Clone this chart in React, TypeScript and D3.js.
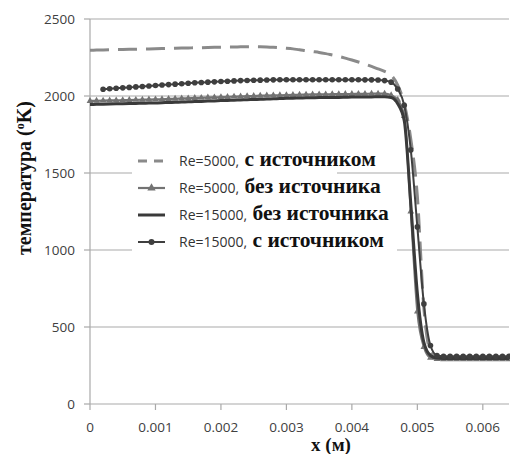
import React from 'react';
import * as d3 from 'd3';

// mesh points along x (m)
const xValues = [
  0, 0.0001, 0.0002, 0.0003, 0.0004, 0.0005, 0.0006, 0.0007, 0.0008, 0.0009,
  0.001, 0.0011, 0.0012, 0.0013, 0.0014, 0.0015, 0.0016, 0.0017, 0.0018, 0.0019,
  0.002, 0.0021, 0.0022, 0.0023, 0.0024, 0.0025, 0.0026, 0.0027, 0.0028, 0.0029,
  0.003, 0.0031, 0.0032, 0.0033, 0.0034, 0.0035, 0.0036, 0.0037, 0.0038, 0.0039,
  0.004, 0.0041, 0.0042, 0.0043, 0.0044, 0.0045, 0.0046, 0.0047, 0.0048, 0.0049,
  0.005, 0.0051, 0.0052, 0.0053, 0.0054, 0.0055, 0.0056, 0.0057, 0.0058, 0.0059,
  0.006, 0.0061, 0.0062, 0.0063, 0.0064,
];

// Re=5000, с источником (dashed)
const re5000Source = [
  2297, 2298, 2299, 2300, 2301, 2302, 2303, 2304, 2305, 2306,
  2307, 2308, 2309, 2310, 2311, 2312, 2313, 2314, 2315, 2316,
  2317, 2318, 2318, 2319, 2319, 2319, 2319, 2318, 2316, 2313,
  2310, 2306, 2300, 2295, 2289, 2283, 2275, 2266, 2257, 2246,
  2234, 2221, 2207, 2192, 2176, 2160, 2135, 2070, 1950, 1720,
  1350, 620, 340, 300, 295, 295, 295, 295, 295, 295,
  295, 295, 295, 295, 295,
];

// Re=5000, без источника (triangles)
const re5000NoSource = [
  1968, 1969, 1970, 1971, 1972, 1973, 1974, 1975, 1976, 1977,
  1978, 1979, 1981, 1982, 1984, 1985, 1987, 1988, 1990, 1991,
  1993, 1994, 1996, 1997, 1999, 2000, 2002, 2003, 2004, 2005,
  2006, 2007, 2008, 2009, 2010, 2011, 2011, 2012, 2012, 2013,
  2013, 2014, 2014, 2015, 2015, 2015, 2005, 1975, 1870, 1250,
  600, 370, 300, 292, 290, 290, 290, 290, 290, 290,
  290, 290, 290, 290, 290,
];

// Re=15000, без источника (solid)
const re15000NoSource = [
  1945, 1946, 1947, 1948, 1949, 1950, 1951, 1952, 1953, 1954,
  1955, 1956, 1958, 1959, 1961, 1962, 1964, 1965, 1967, 1968,
  1970, 1971, 1973, 1974, 1976, 1977, 1979, 1980, 1982, 1983,
  1985, 1986, 1987, 1988, 1989, 1990, 1990, 1991, 1991, 1992,
  1993, 1993, 1994, 1994, 1995, 1995, 1990, 1950, 1840, 1300,
  720, 400, 315, 298, 295, 295, 295, 295, 295, 295,
  295, 295, 295, 295, 295,
];

// Re=15000, с источником (dots)
const re15000Source = [
  null, null, 2044, 2047, 2050, 2053, 2056, 2059, 2062, 2065,
  2068, 2071, 2074, 2077, 2080, 2083, 2086, 2088, 2090, 2092,
  2094, 2096, 2098, 2100, 2101, 2102, 2103, 2104, 2105, 2106,
  2106, 2106, 2106, 2106, 2106, 2106, 2106, 2106, 2106, 2106,
  2106, 2106, 2105, 2105, 2104, 2100, 2090, 2045, 1940, 1650,
  1150, 650, 380, 315, 310, 310, 310, 310, 310, 310,
  310, 310, 310, 310, 310,
];

const yTicks = [0, 500, 1000, 1500, 2000, 2500];
const xTicks = [0, 0.001, 0.002, 0.003, 0.004, 0.005, 0.006];

const legendRows = [
  { re: 'Re=5000,', text: 'с источником', kind: 'dash' },
  { re: 'Re=5000,', text: 'без источника', kind: 'tri' },
  { re: 'Re=15000,', text: 'без источника', kind: 'solid' },
  { re: 'Re=15000,', text: 'с источником', kind: 'dot' },
];

const W = 510;
const H = 454;
const sans = '"Open Sans", sans-serif';
const serif = '"Liberation Serif", "Times New Roman", serif';

const colors = {
  dash: '#8a8a8a',
  tri: '#737373',
  solid: '#3a3a3a',
  dot: '#3f3f3f',
  grid: '#a9a9a9',
  text: '#404040',
};

export default function App() {
  const x = d3.scaleLinear().domain([0, 0.0064]).range([90, 509]);
  const y = d3.scaleLinear().domain([0, 2500]).range([404, 19]);

  const mkLine = (vals: (number | null)[]) =>
    d3.line<number>()
      .defined((_, i) => vals[i] != null)
      .x((d) => x(d))
      .y((_, i) => y(vals[i] as number))
      .curve(d3.curveMonotoneX)(xValues);

  const tri = d3.symbol().type(d3.symbolTriangle).size(20)();
  const triLegend = d3.symbol().type(d3.symbolTriangle).size(30)();

  const legendY = [161, 188, 215, 242];

  return (
    <svg width={W} height={H} style={{ position: 'fixed', left: 0, top: 0, background: '#fff' }}>
      <rect width={W} height={H} fill="#fff" />
      {/* gridlines */}
      {yTicks.slice(1).map((t) => (
        <line key={t} x1={x(0)} x2={509} y1={y(t)} y2={y(t)} stroke={colors.grid} strokeWidth={1.2} />
      ))}
      {/* axes */}
      <line x1={x(0)} x2={x(0)} y1={y(2500)} y2={y(0)} stroke={colors.grid} strokeWidth={1.2} />
      <line x1={x(0)} x2={509} y1={y(0)} y2={y(0)} stroke={colors.grid} strokeWidth={1.2} />
      {yTicks.map((t) => (
        <g key={t}>
          <line x1={84} x2={x(0)} y1={y(t)} y2={y(t)} stroke={colors.grid} strokeWidth={1.2} />
          <text x={75} y={y(t) + 5} textAnchor="end" fontFamily={sans} fontSize={13.5} fill={colors.text}>{t}</text>
        </g>
      ))}
      {xTicks.map((t) => (
        <g key={t}>
          <line x1={x(t)} x2={x(t)} y1={y(0)} y2={y(0) + 6} stroke={colors.grid} strokeWidth={1.2} />
          <text x={x(t)} y={432} textAnchor="middle" fontFamily={sans} fontSize={13.5} fill={colors.text}>{t}</text>
        </g>
      ))}

      {/* series */}
      <path d={mkLine(re5000Source) || ''} fill="none" stroke={colors.dash} strokeWidth={3} strokeDasharray="19 9" />
      <path d={mkLine(re5000NoSource) || ''} fill="none" stroke={colors.tri} strokeWidth={2.2} />
      {xValues.map((xv, i) => (
        <path key={'t' + i} d={tri || ''} transform={`translate(${x(xv)},${y(re5000NoSource[i])})`} fill={colors.tri} />
      ))}
      <path d={mkLine(re15000NoSource) || ''} fill="none" stroke={colors.solid} strokeWidth={3} />
      <path d={mkLine(re15000Source) || ''} fill="none" stroke={colors.dot} strokeWidth={2} />
      {xValues.map((xv, i) =>
        re15000Source[i] == null ? null : (
          <circle key={'c' + i} cx={x(xv)} cy={y(re15000Source[i] as number)} r={2.8} fill={colors.dot} />
        )
      )}

      {/* legend */}
      <rect x={132} y={146} width={205} height={110} fill="#fff" />
      <rect x={300} y={232} width={97} height={24} fill="#fff" />
      {legendRows.map((r, i) => {
        const ly = legendY[i];
        return (
          <g key={i}>
            {r.kind === 'dash' && (
              <line x1={138} x2={165} y1={ly} y2={ly} stroke={colors.dash} strokeWidth={3} strokeDasharray="9 7" />
            )}
            {r.kind === 'tri' && (
              <g>
                <line x1={138} x2={165} y1={ly} y2={ly} stroke={colors.tri} strokeWidth={2.2} />
                <path d={triLegend || ''} transform={`translate(151.5,${ly})`} fill={colors.tri} />
              </g>
            )}
            {r.kind === 'solid' && (
              <line x1={138} x2={165} y1={ly} y2={ly} stroke={colors.solid} strokeWidth={3} />
            )}
            {r.kind === 'dot' && (
              <g>
                <line x1={138} x2={165} y1={ly} y2={ly} stroke={colors.dot} strokeWidth={2} />
                <circle cx={151.5} cy={ly} r={3} fill={colors.dot} />
              </g>
            )}
            <text x={179} y={ly + 5} fill="#333">
              <tspan fontFamily={sans} fontSize={14}>{r.re}</tspan>
              <tspan fontFamily={serif} fontWeight="bold" fontSize={21.5} fill="#111">{' ' + r.text}</tspan>
            </text>
          </g>
        );
      })}

      {/* axis titles */}
      <text
        transform="translate(31,178) rotate(-90)"
        textAnchor="middle"
        fontFamily={serif}
        fontWeight="bold"
        fontSize={20}
        fill="#111"
      >
        температура (
        <tspan fontSize={12} dy={-7}>o</tspan>
        <tspan dy={7}>K)</tspan>
      </text>
      <text x={331} y={451} textAnchor="middle" fontFamily={serif} fontWeight="bold" fontSize={19} fill="#111">
        x (м)
      </text>
    </svg>
  );
}
